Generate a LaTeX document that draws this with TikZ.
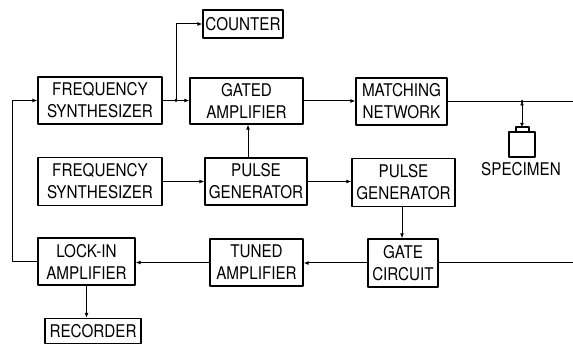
\documentclass[tikz,border=0pt]{standalone}
\usepackage{fontspec}
\newfontfamily\blockfont{TeX Gyre Heros}[FakeStretch=0.87]
\usetikzlibrary{arrows.meta}

\begin{document}
\begin{tikzpicture}[
    x=1pt, y=-1pt,
    line join=round,
    line cap=round,
    line width=1pt,
    block/.style={draw, line width=1.2pt, align=center, inner sep=0pt,
        font=\blockfont\fontsize{17.5}{22}\selectfont},
    tag/.style={font=\blockfont\fontsize{17.5}{22}\selectfont},
    arrow/.style={-{Latex[length=5pt,width=4pt]}},
    twoway/.style={{Latex[length=4pt,width=4pt]}-{Latex[length=4pt,width=4pt]}},
    dot/.style={circle, fill, inner sep=0pt, minimum size=3.5pt}
]
\useasboundingbox (0,0) rectangle (573,344);

% -------------------------------------------------
% Blocks
% -------------------------------------------------
\node[block, minimum width=124, minimum height=47] (synthA) at (100,100.5)
    {FREQUENCY\\SYNTHESIZER};
\node[block, minimum width=80, minimum height=28] (counter) at (243,24)
    {COUNTER};
\node[block, minimum width=113, minimum height=46] (gated) at (246.5,101)
    {GATED\\AMPLIFIER};
\node[block, minimum width=91, minimum height=47] (matching) at (401.5,101.5)
    {MATCHING\\NETWORK};

\node[block, minimum width=124, minimum height=48] (synthB) at (100,181.5)
    {FREQUENCY\\SYNTHESIZER};
\node[block, minimum width=102, minimum height=47] (pulseA) at (256,181.5)
    {PULSE\\GENERATOR};
\node[block, minimum width=103, minimum height=48] (pulseB) at (403.5,182.5)
    {PULSE\\GENERATOR};

\node[block, minimum width=97, minimum height=47] (lockin) at (86.5,261.5)
    {LOCK-IN\\AMPLIFIER};
\node[block, minimum width=93, minimum height=47] (tuned) at (256.5,262.5)
    {TUNED\\AMPLIFIER};
\node[block, minimum width=70, minimum height=48] (gate) at (403,263)
    {GATE\\CIRCUIT};

\node[block, minimum width=96, minimum height=25] (recorder) at (93,331)
    {RECORDER};

% -------------------------------------------------
% Specimen
% -------------------------------------------------
\draw[line width=1.2pt] (516,127) rectangle (529,132);
\draw[line width=1.2pt] (509,132) rectangle (535,157);
\coordinate (spectop) at (522,127);
\node[tag] (speclabel) at (521,169) {SPECIMEN};

% -------------------------------------------------
% Helper points
% -------------------------------------------------
\coordinate (split) at (176,100.5);
\coordinate (tap) at (522,101.5);
\coordinate (outA) at (573,101.5);
\coordinate (outB) at (573,263);
\coordinate (back) at (12,261.5);

% -------------------------------------------------
% Connectors
% -------------------------------------------------
\draw[arrow] (synthA.east) -- (synthA.east -| gated.west);
\draw[arrow] (split) |- (counter.west);
\node[dot] at (split) {};

\draw[arrow] (gated.east) -- (gated.east -| matching.west);
\draw (matching.east) -- (outA);
\node[dot] at (tap) {};
\draw[twoway] (tap) -- (spectop);

\draw[arrow] (pulseA.north -| 248,0) -- (gated.south -| 248,0);
\draw[arrow] (synthB.east) -- (synthB.east -| pulseA.west);
\draw[arrow] (pulseA.east) -- (pulseA.east -| pulseB.west);
\draw[arrow] (pulseB.south -| 402,0) -- (gate.north -| 402,0);

\draw (gate.east) -- (outB);
\draw[arrow] (gate.west) -- (gate.west -| tuned.east);
\draw[arrow] (tuned.west) -- (tuned.west -| lockin.east);

\draw[arrow] (lockin.west) -- (back) |- (synthA.west);
\draw[arrow] (lockin.south) -- (recorder.north -| lockin.south);

\end{tikzpicture}
\end{document}
